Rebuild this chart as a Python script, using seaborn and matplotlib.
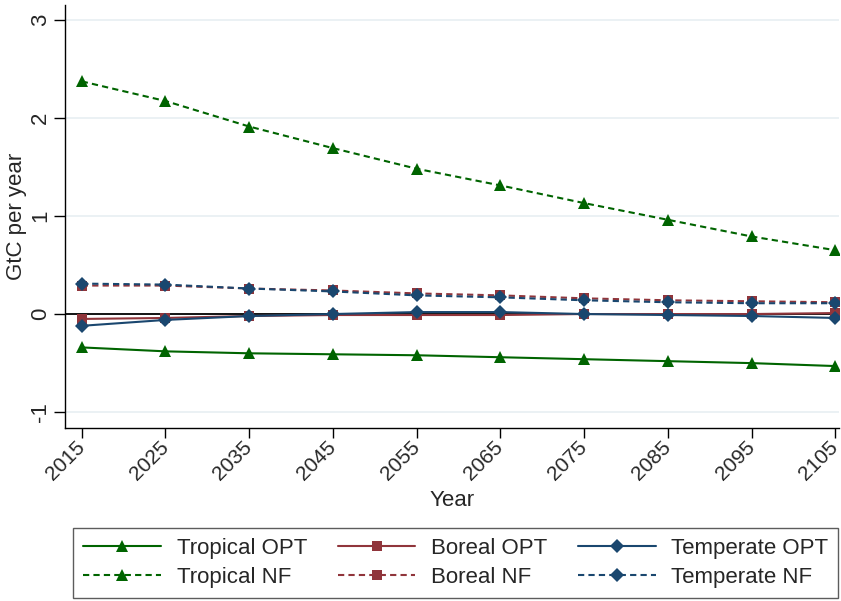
import numpy as np
import pandas as pd
import matplotlib
matplotlib.use("Agg")
import matplotlib.pyplot as plt
import matplotlib.transforms as mtransforms
import seaborn as sns

years = [2015, 2025, 2035, 2045, 2055, 2065, 2075, 2085, 2095, 2105]
tropical_opt = [-0.34, -0.38, -0.40, -0.41, -0.42, -0.44, -0.46, -0.48, -0.50, -0.53]
boreal_opt = [-0.05, -0.04, -0.02, -0.01, -0.01, -0.01, 0.0, 0.0, 0.0, 0.01]
temperate_opt = [-0.12, -0.06, -0.02, 0.0, 0.02, 0.02, 0.0, -0.01, -0.02, -0.04]
tropical_nf = [2.37, 2.17, 1.91, 1.69, 1.48, 1.31, 1.13, 0.96, 0.79, 0.65]
boreal_nf = [0.29, 0.29, 0.26, 0.24, 0.21, 0.19, 0.16, 0.14, 0.13, 0.12]
temperate_nf = [0.31, 0.30, 0.26, 0.23, 0.19, 0.17, 0.14, 0.12, 0.11, 0.11]

series = [
    ("Tropical OPT", tropical_opt, "#006400", "^", "-", 8),
    ("Boreal OPT", boreal_opt, "#90353B", "s", "-", 7),
    ("Temperate OPT", temperate_opt, "#1A476F", "D", "-", 7),
    ("Tropical NF", tropical_nf, "#006400", "^", "--", 8),
    ("Boreal NF", boreal_nf, "#90353B", "s", "--", 7),
    ("Temperate NF", temperate_nf, "#1A476F", "D", "--", 7),
]

sns.set_theme(style="white")
plt.rcParams["font.family"] = ["Liberation Sans", "DejaVu Sans"]

fig = plt.figure(figsize=(8.41, 6.01), dpi=100)
ax = fig.add_axes([0.0773, 0.288, 0.920, 0.704])

for y in [-1, 1, 2, 3]:
    ax.axhline(y, color="#E8EFF2", lw=1.2, zorder=0)
ax.axhline(0, color="black", lw=1.3, zorder=1)

handles = {}
for name, vals, col, mk, ls, ms in series:
    df = pd.DataFrame({"Year": years, "val": vals})
    sns.lineplot(data=df, x="Year", y="val", ax=ax, color=col, marker=mk,
                 markersize=ms, markeredgewidth=0, lw=1.5, zorder=3, legend=False)
    line = ax.get_lines()[-1]
    if ls == "--":
        line.set_dashes((3, 2))
    handles[name] = line

if ax.get_legend() is not None:
    ax.get_legend().remove()

ax.set_xlim(2013, 2105.4)
ax.set_ylim(-1.16, 3.15)
ax.set_xticks(years)
ax.set_xticklabels([str(y) for y in years], rotation=45, ha="right", va="center",
                   rotation_mode="anchor", fontsize=15)
offset = mtransforms.ScaledTranslation(-9 / 100, 1 / 100, fig.dpi_scale_trans)
for lab in ax.get_xticklabels():
    lab.set_transform(lab.get_transform() + offset)
ax.set_yticks([-1, 0, 1, 2, 3])
ax.set_yticklabels(["-1", "0", "1", "2", "3"], rotation=90, va="center", fontsize=16)
ax.tick_params(axis="both", direction="out", length=8, width=1, color="black",
               bottom=True, left=True, pad=2)
ax.tick_params(axis="x", pad=5, length=7)
ax.set_xlabel("Year", fontsize=16, labelpad=4)
ax.set_ylabel("GtC per year", fontsize=16, labelpad=2)
for s in ["top", "right"]:
    ax.spines[s].set_visible(False)
for s in ["left", "bottom"]:
    ax.spines[s].set_color("black")
    ax.spines[s].set_linewidth(1)

order = ["Tropical OPT", "Tropical NF", "Boreal OPT", "Boreal NF",
         "Temperate OPT", "Temperate NF"]
leg = fig.legend([handles[n] for n in order], order, ncol=3,
                 loc="lower left", bbox_to_anchor=(0.087, 0.005, 0.910, 0.118),
                 mode="expand", borderaxespad=0, fontsize=16, frameon=True,
                 fancybox=False, handlelength=3.5, handletextpad=0.7,
                 columnspacing=1.0, labelspacing=0.35, borderpad=0.45)
leg.get_frame().set_edgecolor("#333333")
leg.get_frame().set_linewidth(1)

fig.savefig("out.png", dpi=100, facecolor="white")
